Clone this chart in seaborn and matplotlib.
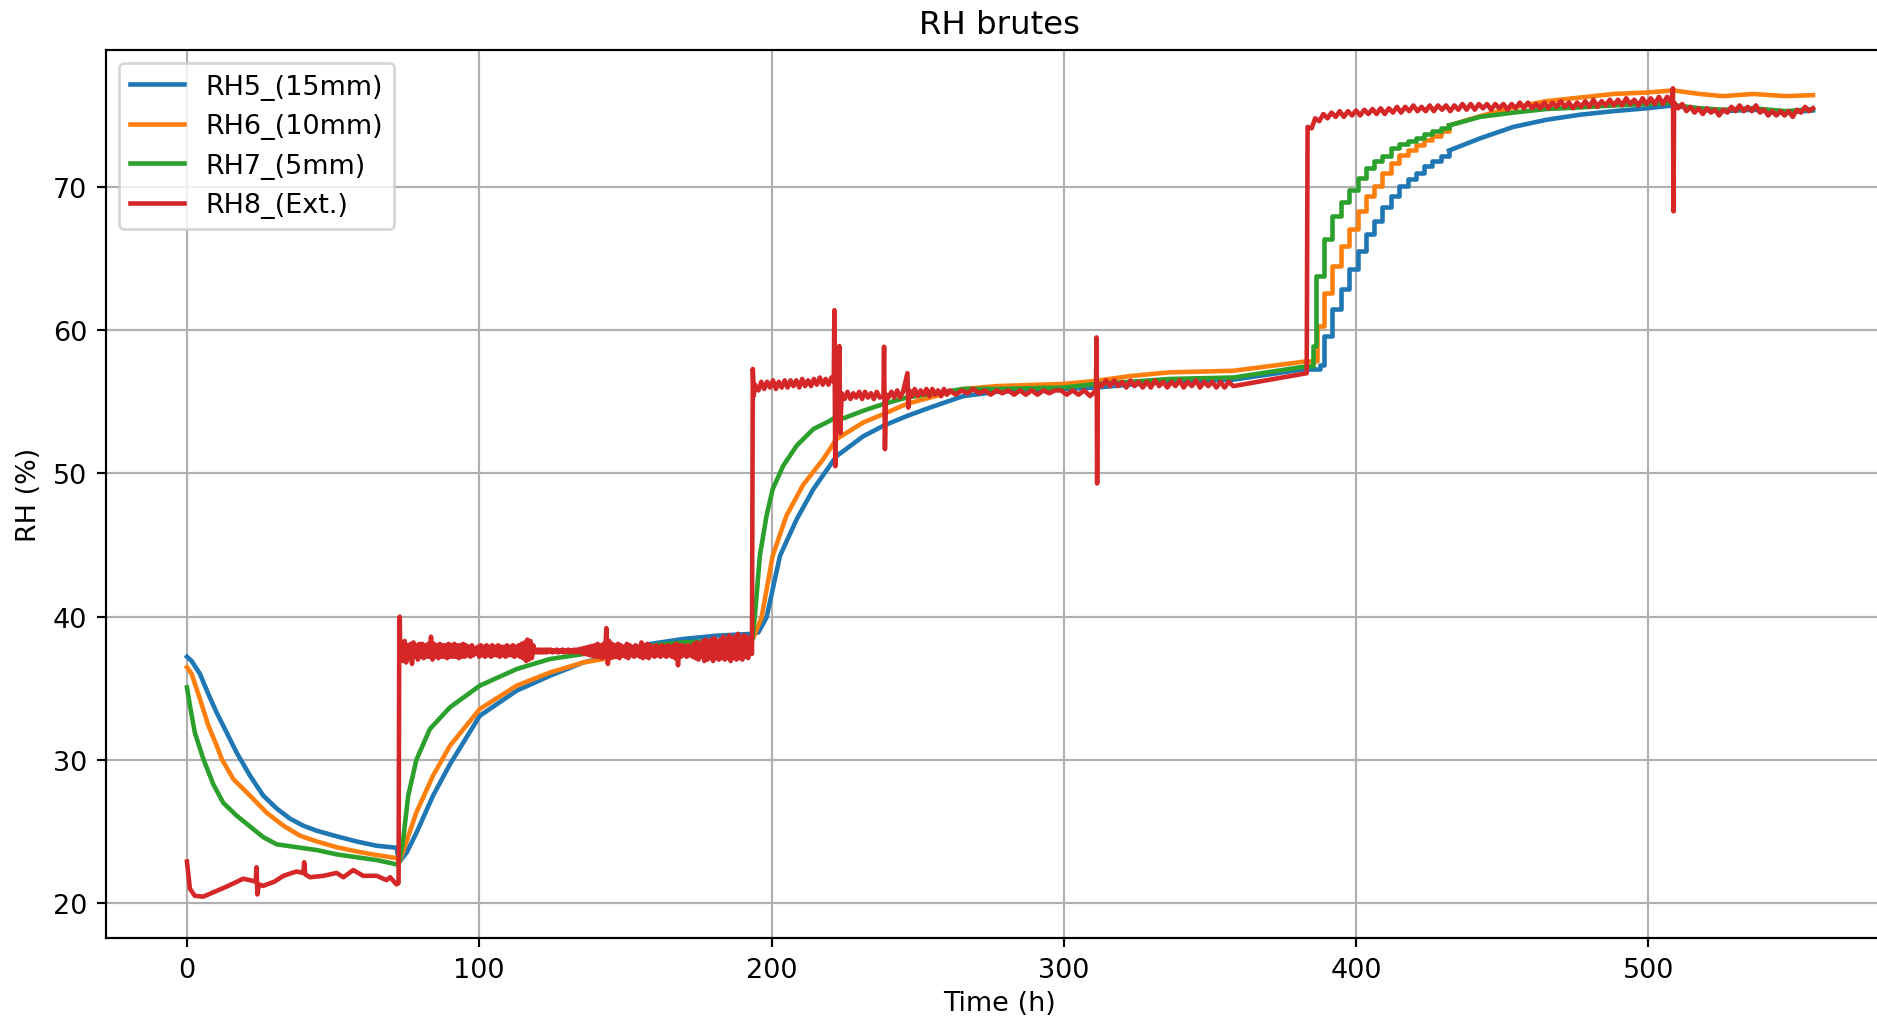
import matplotlib
matplotlib.use("Agg")
import matplotlib.pyplot as plt
import numpy as np
import seaborn as sns

# ---------------- data (time in h, relative humidity in %) ----------------
# RH5 (15 mm)
rh5_t = [0, 1.6, 4.45, 7.3, 10.15, 13.6, 17.0, 21.55, 26.1, 30.7, 35.2, 39.8, 44.4, 51.2, 58.0,
         64.9, 71.7, 72.6, 75.2, 78.5, 84.2, 90.0, 100.2, 112.8, 124.2, 135.6, 147.0, 158.4, 169.8,
         181.2, 193.5, 195.5, 198.3, 202.9, 208.6, 214.3, 222.2, 231.4, 238.3, 246.2, 254.2, 265.6,
         277.0, 299.8, 311.2, 322.6, 336.3, 358.0, 383.1]
rh5_v = [37.2, 36.9, 36.0, 34.6, 33.3, 31.9, 30.5, 28.9, 27.5, 26.6, 25.9, 25.4, 25.05, 24.66, 24.3,
         24.0, 23.86, 22.85, 23.54, 24.9, 27.5, 29.7, 33.08, 34.83, 35.87, 36.8, 37.39, 38.09, 38.44,
         38.67, 38.8, 38.9, 39.95, 44.25, 46.8, 48.9, 51.2, 52.6, 53.33, 54.0, 54.6, 55.4,
         55.7, 55.9, 56.0, 56.2, 56.4, 56.55, 57.3]
rh5_step_t = [383.1, 387.6, 389.1, 391.9, 394.8, 397.6, 400.5, 403.3, 406.2, 409.0, 411.9, 414.7,
              417.6, 420.4, 423.3, 426.1, 428.9, 431.8]
rh5_step_v = [57.3, 57.6, 59.6, 61.5, 62.9, 64.3, 65.55, 66.7, 67.65, 68.6, 69.4, 70.1,
              70.55, 71.0, 71.45, 71.85, 72.2, 72.55]
rh5_tail_t = [431.8, 442.4, 453.8, 465.2, 476.6, 488.0, 499.4, 508.5, 517.6, 525.5, 535.8, 547.2, 556.3]
rh5_tail_v = [72.55, 73.4, 74.2, 74.7, 75.05, 75.3, 75.5, 75.7, 75.4, 75.3, 75.4, 75.2, 75.35]

# RH6 (10 mm)
rh6_t = [0, 1.6, 4.45, 7.3, 10.15, 11.9, 15.85, 21.55, 27.3, 33.0, 38.7, 44.4, 51.2, 58.0, 64.9,
         71.7, 72.6, 74.6, 78.5, 84.2, 90.0, 100.2, 112.8, 124.2, 135.6, 147.0, 158.4, 169.8, 181.2,
         193.5, 196.6, 200.4, 205.1, 210.8, 217.7, 222.2, 231.4, 238.3, 246.2, 254.2, 265.6, 277.0,
         299.8, 311.2, 322.6, 336.3, 358.0, 383.1]
rh6_v = [36.46, 36.0, 34.25, 32.4, 31.0, 30.06, 28.66, 27.5, 26.3, 25.4, 24.7, 24.3, 23.9, 23.6, 23.35,
         23.14, 22.85, 24.0, 26.33, 28.9, 30.99, 33.55, 35.18, 36.1, 36.8, 37.2, 37.6, 37.97, 38.2,
         38.4, 39.95, 44.25, 47.05, 49.2, 51.0, 52.4, 53.56, 54.15, 54.85, 55.3, 55.9, 56.1,
         56.25, 56.47, 56.8, 57.06, 57.17, 57.83]
rh6_step_t = [383.1, 386.7, 389.1, 391.9, 394.8, 397.6, 400.5, 403.3, 406.2, 409.0, 411.9, 414.7,
              417.6, 420.4, 423.3, 426.1, 428.9, 431.8]
rh6_step_v = [57.83, 60.3, 62.6, 64.5, 65.9, 67.1, 68.3, 69.35, 70.05, 71.0, 71.7, 72.25,
              72.6, 72.95, 73.3, 73.6, 73.9, 74.3]
rh6_tail_t = [431.8, 442.4, 453.8, 465.2, 476.6, 488.0, 499.4, 508.5, 517.6, 525.5, 535.8, 547.2, 556.3]
rh6_tail_v = [74.3, 74.95, 75.56, 76.0, 76.25, 76.5, 76.6, 76.75, 76.5, 76.35, 76.5, 76.35, 76.42]

# RH7 (5 mm)
rh7_t = [0, 1.0, 2.7, 5.6, 9.0, 12.4, 17.0, 21.55, 26.1, 30.7, 37.5, 44.4, 51.2, 58.0, 64.9,
         71.7, 72.6, 74.0, 75.7, 78.5, 83.1, 90.0, 100.2, 112.8, 124.2, 135.6, 147.0, 158.4, 169.8,
         181.2, 193.5, 194.5, 196.0, 198.3, 200.4, 204.0, 208.6, 214.3, 220.0, 222.0, 224.6, 231.4,
         238.3, 246.2, 254.2, 265.6, 277.0, 299.8, 311.2, 322.6, 336.3, 358.0, 383.1]
rh7_v = [35.06, 33.8, 31.9, 30.06, 28.3, 27.0, 26.1, 25.35, 24.6, 24.1, 23.9, 23.7, 23.4, 23.2, 23.0,
         22.7, 22.85, 24.47, 27.5, 30.0, 32.15, 33.67, 35.18, 36.34, 37.04, 37.39, 37.74, 37.97, 38.2,
         38.3, 38.48, 40.5, 44.25, 47.05, 48.9, 50.54, 51.94, 53.1, 53.68, 53.95, 53.85, 54.38,
         54.85, 55.3, 55.55, 55.9, 55.9, 56.0, 56.25, 56.4, 56.6, 56.7, 57.48]
rh7_step_t = [383.1, 385.3, 386.2, 389.1, 391.9, 394.8, 397.6, 400.5, 403.3, 406.2, 409.0, 411.9,
              414.7, 417.6, 420.4, 423.3, 426.1, 428.9, 431.8]
rh7_step_v = [57.48, 58.9, 63.8, 66.4, 68.0, 68.95, 69.8, 70.6, 71.3, 71.85, 72.2, 72.7,
              73.0, 73.25, 73.45, 73.7, 73.9, 74.1, 74.3]
rh7_tail_t = [431.8, 442.4, 453.8, 465.2, 476.6, 488.0, 499.4, 508.5, 509.5, 517.6, 525.5, 535.8, 547.2, 556.3]
rh7_tail_v = [74.3, 74.9, 75.2, 75.45, 75.56, 75.7, 75.8, 75.9, 75.7, 75.5, 75.4, 75.5, 75.3, 75.45]

# RH8 (exterior): dry step, read point by point
rh8_dry_t = [0, 1.0, 2.7, 5.6, 9.0, 13.6, 19.3, 23.5, 23.8, 24.1, 24.6, 26.1, 30.0, 33.0, 37.5, 39.8,
             40.1, 40.5, 42.1, 46.7, 51.2, 53.5, 56.9, 60.3, 64.9, 68.3, 69.5, 71.7, 72.4, 72.6, 72.8]
rh8_dry_v = [22.9, 21.0, 20.5, 20.45, 20.75, 21.15, 21.7, 21.5, 22.5, 20.6, 21.3, 21.2, 21.5, 21.9, 22.2,
             22.1, 22.85, 22.0, 21.8, 21.9, 22.1, 21.8, 22.3, 21.9, 21.9, 21.6, 21.8, 21.3, 21.4,
             36.5, 40.0]

# RH8: ~38 % step, logged every 0.5 h from 73 h
rh8_log_start = 73.0
rh8_log_step = 0.5
rh8_log_v = [
    37.1, 38.2, 36.9, 38.3, 36.8, 38.0, 37.1, 38.1, 36.7, 38.2, 37.2, 38.0, 37.0, 38.1, 37.2, 38.1, 37.1, 38.0, 37.2, 38.1,
    37.2, 38.6, 37.0, 38.1, 37.2, 38.0, 37.1, 38.1, 37.2, 38.0, 37.2, 38.0, 37.1, 38.1, 37.2, 38.0, 37.2, 38.1, 37.2, 38.0,
    37.1, 38.0, 37.2, 38.1, 37.2, 38.0, 37.3, 37.9, 37.2, 38.0, 37.3, 37.8, 37.4, 37.9, 37.2, 38.0, 37.3, 37.9, 37.2, 38.0,
    37.3, 37.9, 37.2, 38.0, 37.3, 37.9, 37.3, 38.0, 37.2, 37.9, 37.3, 37.9, 37.2, 38.0, 37.3, 37.9, 37.3, 38.0, 37.2, 37.9,
    37.3, 38.0, 37.2, 38.1, 37.1, 38.2, 36.9, 38.4, 37.0, 38.3, 37.1, 38.0, 37.5, 37.7, 37.5, 37.7, 37.5, 37.7, 37.5, 37.7,
    37.5, 37.7, 37.55, 37.7, 37.5, 37.65, 37.55, 37.7, 37.5, 37.65, 37.55, 37.7, 37.5, 37.65, 37.55, 37.7, 37.5, 37.65, 37.55, 37.7,
    37.5, 37.7, 37.55, 37.75, 37.45, 37.8, 37.4, 37.85, 37.35, 37.9, 37.3, 37.95, 37.25, 38.0, 37.2, 38.1, 37.2, 38.0, 37.1, 38.1,
    37.2, 39.2, 36.7, 38.3, 37.1, 38.1, 37.2, 38.0, 37.2, 38.1, 37.1, 38.0, 37.3, 37.9, 37.2, 38.1, 37.1, 38.0, 37.3, 37.9,
    37.2, 38.0, 37.3, 37.9, 37.2, 38.2, 37.1, 38.0, 37.2, 38.1, 37.1, 38.0, 37.3, 37.9, 37.2, 38.0, 37.3, 37.9, 37.2, 38.0,
    37.3, 37.9, 37.2, 38.0, 37.3, 37.9, 37.2, 38.0, 37.1, 38.1, 36.6, 38.0, 37.2, 38.0, 37.3, 37.9, 37.2, 38.0, 37.3, 37.9,
    37.2, 38.1, 37.1, 38.2, 37.0, 38.1, 37.2, 38.3, 36.9, 38.4, 37.0, 38.3, 37.1, 38.4, 36.9, 38.5, 37.1, 38.3, 37.0, 38.4,
    37.1, 38.6, 37.0, 38.4, 37.1, 38.7, 36.9, 38.5, 37.1, 38.6, 37.0, 38.8, 37.1, 38.5, 37.0, 38.7, 37.2, 38.6, 37.1, 38.5,
]

# RH8: ~56 % and ~75 % steps, read point by point
rh8_wet_t = [
    193.3, 193.6, 193.9, 194.3, 195.5, 196.5, 197.5, 198.5, 199.5, 200.5, 201.5, 202.5, 203.5, 204.5,
    205.5, 206.5, 207.5, 208.5, 209.5, 210.5, 211.5, 212.5, 213.5, 214.5, 215.5, 216.5, 217.5, 218.5,
    219.5, 220.5, 221.3, 221.5, 221.8, 222.2, 222.8, 223.2, 223.5, 224.0, 225, 226, 227, 228, 229,
    230, 231, 232, 233, 234, 235, 236, 237, 238.3, 238.5, 238.8, 239.2, 240, 241, 242, 243, 244, 245,
    246.5, 246.8, 247.2, 248, 249, 250, 251, 252, 253, 254, 255, 256, 257, 258, 259, 260, 261,
    263, 265, 267, 269, 271, 273, 275, 277, 279, 281, 283, 285, 287, 289, 291, 293, 295, 297,
    299, 301, 303, 305, 307, 309, 311.0, 311.2, 311.4, 311.6,
    313, 314.4, 315.8, 317.2, 318.6, 320, 321.4, 322.8, 324.2, 325.6, 327, 328.4, 329.8, 331.2,
    332.6, 334, 335.4, 336.8, 338.2, 339.6, 341, 342.4, 343.8, 345.2, 346.6, 348, 349.4, 350.8,
    352.2, 353.6, 355, 356.4, 358, 383.1,
    383.4, 384.8, 386.0, 387.4, 388.8, 390.2, 391.6, 393, 394.4, 395.8, 397.2, 398.6, 400, 401.4,
    402.8, 404.2, 405.6, 407, 408.4, 409.8, 411.2, 412.6, 414, 415.4, 416.8, 418.2, 419.6, 421,
    422.4, 423.8, 425.2, 426.6, 428, 429.4, 430.8, 432.2, 433.6, 435, 436.4, 437.8, 439.2, 440.6,
    442, 443.4, 444.8, 446.2, 447.6, 449, 450.4, 451.8, 453.2, 454.6, 456, 457.4, 458.8, 460.2,
    461.6, 463, 464.4, 465.8, 467.2, 468.6, 470, 471.4, 472.8, 474.2, 475.6, 477, 478.4, 479.8,
    481.2, 482.6, 484, 485.4, 486.8, 488.2, 489.6, 491, 492.4, 493.8, 495.2, 496.6, 498, 499.4,
    500.8, 502.2, 503.6, 505, 506.4, 507.8, 508.4, 508.6, 508.8, 510.2, 511.6, 513, 514.4, 515.8,
    517.2, 518.6, 520, 521.4, 522.8, 524.2, 525.6, 527, 528.4, 529.8, 531.2, 532.6, 534, 535.4,
    536.8, 538.2, 539.6, 541, 542.4, 543.8, 545.2, 546.6, 548, 549.4, 550.8, 552.2, 553.6, 555,
    556.3,
]
rh8_wet_v = [
    37.4, 57.3, 55.4, 56.2, 55.8, 56.4, 55.9, 56.4, 56.0, 56.5, 55.9, 56.4, 56.0, 56.5,
    56.0, 56.5, 56.1, 56.5, 56.0, 56.6, 56.1, 56.5, 56.1, 56.6, 56.2, 56.7, 56.2, 56.6,
    56.2, 56.7, 56.4, 61.4, 50.5, 56.0, 55.3, 58.9, 52.8, 55.6, 55.2, 55.7, 55.2, 55.6, 55.3,
    55.7, 55.2, 55.7, 55.3, 55.6, 55.2, 55.7, 55.3, 55.4, 58.85, 51.7, 55.5, 55.3, 55.7, 55.3, 55.8, 55.3, 55.7,
    57.0, 54.6, 55.8, 55.4, 55.9, 55.4, 55.8, 55.5, 55.9, 55.4, 55.9, 55.5, 55.8, 55.4, 55.9, 55.5, 55.8,
    55.5, 55.8, 55.6, 55.9, 55.6, 55.8, 55.5, 55.8, 55.6, 55.8, 55.5, 55.8, 55.5, 55.8, 55.5, 55.8, 55.6, 55.8,
    55.8, 55.5, 55.8, 55.5, 55.8, 55.4, 55.8, 59.5, 49.3, 56.3,
    56.1, 56.5, 56.1, 56.5, 56.1, 56.4, 56.0, 56.5, 56.1, 56.4, 56.0, 56.4, 56.0, 56.5,
    56.1, 56.4, 56.0, 56.4, 56.1, 56.5, 56.0, 56.4, 56.1, 56.5, 56.0, 56.4, 56.1, 56.4,
    56.0, 56.4, 56.0, 56.4, 56.1, 57.0,
    74.2, 74.1, 74.8, 74.6, 75.1, 74.8, 75.2, 74.9, 75.3, 74.9, 75.3, 75.0, 75.35, 75.0,
    75.4, 75.1, 75.45, 75.1, 75.5, 75.1, 75.5, 75.2, 75.6, 75.2, 75.6, 75.3, 75.7, 75.3,
    75.6, 75.3, 75.7, 75.3, 75.7, 75.4, 75.7, 75.3, 75.7, 75.4, 75.8, 75.4, 75.8, 75.4,
    75.8, 75.5, 75.8, 75.4, 75.8, 75.5, 75.8, 75.4, 75.8, 75.5, 75.9, 75.5, 75.9, 75.5,
    75.8, 75.5, 75.9, 75.5, 75.9, 75.6, 76.0, 75.6, 75.9, 75.5, 75.9, 75.6, 76.0, 75.6,
    76.1, 75.6, 76.0, 75.7, 76.1, 75.7, 76.1, 75.7, 76.2, 75.8, 76.1, 75.7, 76.2, 75.8,
    76.2, 75.8, 76.3, 75.8, 76.3, 75.9, 76.9, 68.3, 75.9, 75.5, 75.8, 75.3, 75.6, 75.2,
    75.5, 75.1, 75.5, 75.2, 75.4, 75.0, 75.4, 75.2, 75.6, 75.3, 75.7, 75.3, 75.6, 75.3,
    75.7, 75.2, 75.4, 75.0, 75.3, 75.0, 75.3, 75.0, 75.3, 74.9, 75.4, 75.2, 75.6, 75.3,
    75.5,
]

series = [
    ("RH5_(15mm)", "#1f77b4", rh5_t, rh5_v, rh5_step_t, rh5_step_v, rh5_tail_t, rh5_tail_v),
    ("RH6_(10mm)", "#ff7f0e", rh6_t, rh6_v, rh6_step_t, rh6_step_v, rh6_tail_t, rh6_tail_v),
    ("RH7_(5mm)", "#2ca02c", rh7_t, rh7_v, rh7_step_t, rh7_step_v, rh7_tail_t, rh7_tail_v),
]

# assemble the exterior sensor record in time order
rh8_log_t = rh8_log_start + rh8_log_step * np.arange(len(rh8_log_v))
rh8_t = list(rh8_dry_t) + list(rh8_log_t) + list(rh8_wet_t)
rh8_v = list(rh8_dry_v) + list(rh8_log_v) + list(rh8_wet_v)

# ---------------- figure ----------------
DPI = 194
fig = plt.figure(figsize=(1877.9 / DPI, 1017.9 / DPI), dpi=DPI)
ax = fig.add_axes([106.0 / 1878, 0.0775, 1788.0 / 1878, 0.8729])

LW = 1.7
for label, color, t, v, st, sv, tt, tv in series:
    sns.lineplot(x=t, y=v, ax=ax, color=color, label=label, linewidth=LW,
                 estimator=None, sort=False)
    # logger switched to coarse sampling during the humid step
    sns.lineplot(x=st, y=sv, ax=ax, color=color, linewidth=LW, drawstyle="steps-post",
                 estimator=None, sort=False, legend=False)
    sns.lineplot(x=tt, y=tv, ax=ax, color=color, linewidth=LW,
                 estimator=None, sort=False, legend=False)

sns.lineplot(x=rh8_t, y=rh8_v, ax=ax, color="#d62728", label="RH8_(Ext.)", linewidth=LW,
             estimator=None, sort=False)

ax.set_xlim(-27.7, 584.0)
ax.set_ylim(17.55, 79.6)
ax.set_xticks([0, 100, 200, 300, 400, 500])
ax.set_yticks([20, 30, 40, 50, 60, 70])
ax.grid(True)
ax.set_title("RH brutes")
ax.set_xlabel("Time (h)", labelpad=2.5)
ax.set_ylabel("RH (%)")
ax.legend(loc="upper left")

fig.savefig("out.png", dpi=DPI)
